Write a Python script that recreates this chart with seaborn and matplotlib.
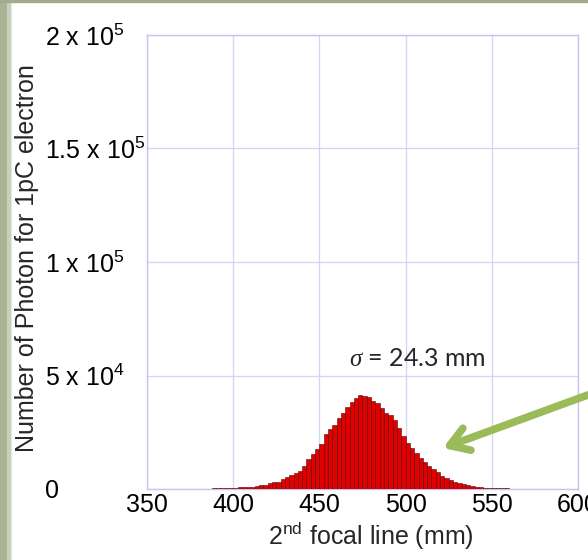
import numpy as np
import pandas as pd
import matplotlib
matplotlib.use("Agg")
import matplotlib.pyplot as plt
from matplotlib.patches import Rectangle
import seaborn as sns

# ---- data ----
focal_mm = [
    368.75, 371.25, 373.75, 376.25, 378.75, 381.25, 383.75, 386.25, 388.75, 391.25,
    393.75, 396.25, 398.75, 401.25, 403.75, 406.25, 408.75, 411.25, 413.75, 416.25,
    418.75, 421.25, 423.75, 426.25, 428.75, 431.25, 433.75, 436.25, 438.75, 441.25,
    443.75, 446.25, 448.75, 451.25, 453.75, 456.25, 458.75, 461.25, 463.75, 466.25,
    468.75, 471.25, 473.75, 476.25, 478.75, 481.25, 483.75, 486.25, 488.75, 491.25,
    493.75, 496.25, 498.75, 501.25, 503.75, 506.25, 508.75, 511.25, 513.75, 516.25,
    518.75, 521.25, 523.75, 526.25, 528.75, 531.25, 533.75, 536.25, 538.75, 541.25,
    543.75, 546.25, 548.75, 551.25, 553.75, 556.25, 558.75, 561.25, 563.75, 566.25,
    568.75, 571.25, 573.75, 576.25, 578.75,
]
photons = [
    80, 100, 100, 120, 150, 170, 190, 220, 250, 280,
    320, 380, 450, 600, 700, 850, 1000, 1100, 1300, 1600,
    1900, 2500, 2900, 3200, 4300, 5100, 6200, 7200, 7800, 10100,
    13200, 15300, 17600, 19800, 24100, 26400, 28300, 31100, 33300, 36300,
    38500, 40100, 41300, 41000, 40400, 38800, 38000, 35500, 33600, 32600,
    30400, 26700, 23300, 20100, 17900, 15700, 13500, 11700, 10100, 8600,
    7300, 5700, 4700, 4000, 3200, 2500, 2200, 1600, 1300, 1000,
    900, 650, 500, 400, 330, 280, 230, 180, 150, 120,
    100, 90, 80, 60, 50,
]
x_ticks = [350, 400, 450, 500, 550, 600]
x_tick_labels = ["350", "400", "450", "500", "550", "600"]
y_ticks = [0, 50000, 100000, 150000, 200000]
y_tick_labels = ["0", "5 x 10$^{4}$", "1 x 10$^{5}$", "1.5 x 10$^{5}$", "2 x 10$^{5}$"]
sigma_text = "$\\mathit{\\sigma}$ = 24.3 mm"

df = pd.DataFrame({"focal_mm": focal_mm, "photons": photons})

sns.set_theme(style="white")
plt.rcParams["font.family"] = ["Liberation Sans", "DejaVu Sans"]
plt.rcParams["mathtext.fontset"] = "custom"
plt.rcParams["mathtext.rm"] = "Liberation Sans"
plt.rcParams["mathtext.it"] = "Liberation Serif:italic"
plt.rcParams["mathtext.default"] = "regular"

fig = plt.figure(figsize=(5.88, 5.60), dpi=100)
fig.patch.set_facecolor("white")
ax = fig.add_axes([147 / 588, 71 / 560, 431 / 588, 454 / 560])

sns.histplot(data=df, x="focal_mm", weights="photons", binwidth=2.5,
             binrange=(367.5, 580.0), color="#E00000", alpha=1.0,
             edgecolor="#5a0505", linewidth=0.4, ax=ax, zorder=3)

ax.set_xlim(350, 600)
ax.set_ylim(0, 200000)
ax.set_xticks(x_ticks)
ax.set_xticklabels(x_tick_labels)
ax.set_yticks(y_ticks)
ax.set_yticklabels(y_tick_labels)
ax.grid(True, color="#d4d4f6", linewidth=0.9, zorder=0)
ax.set_axisbelow(True)
for s in ax.spines.values():
    s.set_color("#c4c4f0")
    s.set_linewidth(1.0)

ax.tick_params(axis="both", length=0, labelsize=18, colors="black")
ax.tick_params(axis="x", pad=3)
ax.tick_params(axis="y", pad=73.4)
for lab in ax.get_yticklabels():
    lab.set_horizontalalignment("left")

ax.set_xlabel("2$^{\\mathrm{nd}}$ focal line (mm)", fontsize=18)
ax.set_ylabel("Number of Photon for 1pC electron", fontsize=18)
ax.xaxis.set_label_coords(0.52, -0.068)
ax.yaxis.set_label_coords(-0.25, 0.508)

ax.text(507, 57700, sigma_text, fontsize=18, ha="center", va="center",
        family=["Lato", "DejaVu Sans"], zorder=5)

ax.annotate("", xy=(521.7, 18060), xytext=(606, 41500),
            arrowprops=dict(arrowstyle="->,head_length=1.1,head_width=0.7",
                            color="#9BBB59", lw=5.5, shrinkA=0, shrinkB=0,
                            joinstyle="round", capstyle="round"),
            annotation_clip=False, zorder=6)

# slide border decoration
fig.add_artist(Rectangle((0, 0), 10 / 588, 1, transform=fig.transFigure,
                         color="#a9b293", zorder=0))
fig.add_artist(Rectangle((7 / 588, 0), 3 / 588, 1, transform=fig.transFigure,
                         color="#c9cfbb", zorder=0))
fig.add_artist(Rectangle((0, 1 - 2 / 560), 1, 2 / 560, transform=fig.transFigure,
                         color="#a3ab8d", zorder=0))

fig.savefig("out.png", dpi=100, facecolor="white")
